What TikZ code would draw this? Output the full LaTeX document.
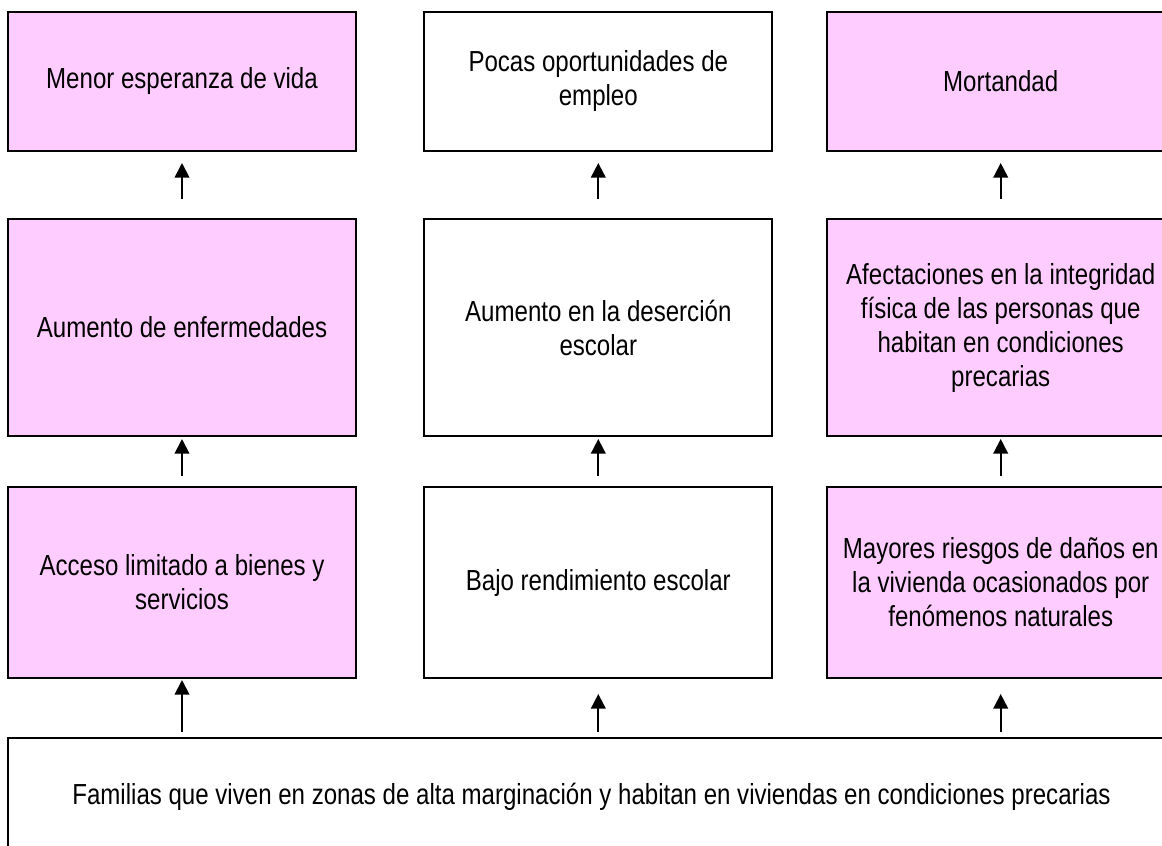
\documentclass[tikz,border=0pt]{standalone}
\usepackage{fontspec}
\setmainfont{Liberation Sans}[FakeStretch=0.83]
\usetikzlibrary{arrows.meta}
\definecolor{rosa}{RGB}{255,204,255}
\tikzset{
	caja/.style={draw, line width=1.5pt, align=center, inner sep=0pt, minimum width=261pt, font=\fontsize{21.75}{25.5}\selectfont},
	fila1/.style={caja, minimum height=104.25pt},
	fila2/.style={caja, minimum height=162.75pt},
	fila3/.style={caja, minimum height=143.25pt},
	flecha/.style={line width=1.4pt, -{Triangle[width=11pt,length=11pt]}}
}

\begin{document}
\begin{tikzpicture}[x=0.75pt, y=-0.75pt]
			%%%%% START %%%%%
			
			\clip (0, 0) rectangle (1162, 845);
			\fill[white] (0, 0) rectangle (1162, 845);
			
			\node[fila1, fill=rosa] (vida) at (182, 81.5) {Menor esperanza de vida};
			\node[fila1] (empleo) at (598.3, 81.5) {Pocas oportunidades de\\empleo};
			\node[fila1, fill=rosa] (mortandad) at (1000.7, 81.5) {Mortandad};
			
			\node[fila2, fill=rosa] (enfermedades) at (182, 327.5) {Aumento de enfermedades};
			\node[fila2] (desercion) at (598.3, 327.5) {Aumento en la deserción\\escolar};
			\node[fila2, fill=rosa] (integridad) at (1000.7, 327.5) {Afectaciones en la integridad\\física de las personas que\\habitan en condiciones\\precarias};
			
			\node[fila3, fill=rosa] (acceso) at (182, 582.5) {Acceso limitado a bienes y\\servicios};
			\node[fila3] (rendimiento) at (598.3, 582.5) {Bajo rendimiento escolar};
			\node[fila3, fill=rosa] (riesgos) at (1000.7, 582.5) {Mayores riesgos de daños en\\la vivienda ocasionados por\\fenómenos naturales};
			
			\node[caja, minimum width=875.25pt, minimum height=87.75pt] (familias) at (591.5, 796.5) {Familias que viven en zonas de alta marginación y habitan en viviendas en condiciones precarias};
			
			\draw[flecha, shorten <=14.25pt, shorten >=8.25pt] (enfermedades) -- (vida);
			\draw[flecha, shorten <=14.25pt, shorten >=8.25pt] (desercion) -- (empleo);
			\draw[flecha, shorten <=14.25pt, shorten >=8.25pt] (integridad) -- (mortandad);
			
			\draw[flecha, shorten <=7.5pt, shorten >=1.5pt] (acceso) -- (enfermedades);
			\draw[flecha, shorten <=7.5pt, shorten >=1.5pt] (rendimiento) -- (desercion);
			\draw[flecha, shorten <=7.5pt, shorten >=1.5pt] (riesgos) -- (integridad);
			
			\draw[flecha, shorten <=3.75pt, shorten >=0.75pt] (familias.north -| acceso) -- (acceso);
			\draw[flecha, shorten <=3.75pt, shorten >=11.25pt] (familias.north -| rendimiento) -- (rendimiento);
			\draw[flecha, shorten <=3.75pt, shorten >=11.25pt] (familias.north -| riesgos) -- (riesgos);
			
			%%%%% END %%%%%
\end{tikzpicture}
\end{document}
